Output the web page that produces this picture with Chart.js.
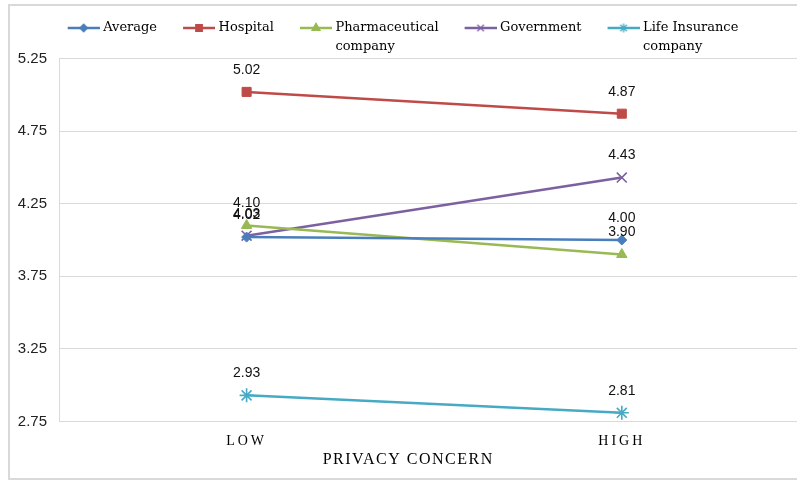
<!DOCTYPE html>
<html>
<head>
<meta charset="utf-8">
<script src="https://cdn.jsdelivr.net/npm/chart.js@4.4.1/dist/chart.umd.min.js"></script>
<style>
  html, body { margin: 0; padding: 0; background: #fff; }
  #wrap { position: relative; width: 797px; height: 482px; overflow: hidden; }
  #frame { position: absolute; left: 8px; top: 4px; width: 900px; height: 476px;
           border: 2px solid #d9d9d9; box-sizing: border-box; }
  canvas { position: absolute; left: 0; top: 0; }
</style>
</head>
<body>
<div id="wrap">
  <div id="frame"></div>
  <canvas id="chart" width="818" height="482"></canvas>
</div>
<script>
// Categories and series values
const categories = ['LOW', 'HIGH'];
const averageValues = [4.02, 4.00];
const hospitalValues = [5.02, 4.87];
const pharmaceuticalValues = [4.10, 3.90];
const governmentValues = [4.03, 4.43];
const lifeInsuranceValues = [2.93, 2.81];
const yTickValues = [2.75, 3.25, 3.75, 4.25, 4.75, 5.25];
const seriesNames = ['Average', 'Hospital', 'Pharmaceutical company', 'Government', 'Life Insurance company'];
const legendLines = [['Average'], ['Hospital'], ['Pharmaceutical', 'company'], ['Government'], ['Life Insurance', 'company']];

const seriesValues = [averageValues, hospitalValues, pharmaceuticalValues, governmentValues, lifeInsuranceValues];
const seriesColors = ['#4a7ebb', '#be4b48', '#98b954', '#7d60a0', '#46aac5'];
const seriesMarkers = ['rectRot', 'rect', 'triangle', 'crossRot', 'star'];
const markerRadius = [5, 6.4, 6, 7, 7];
const legendMarkerRadius = [3.8, 4.6, 4.6, 4.6, 4.6];

const { drawPoint } = Chart.helpers;

// Small line-plus-marker swatch used as the legend symbol
function legendSample(color, style, radius) {
  const c = document.createElement('canvas');
  c.width = 56; c.height = 16;
  const g = c.getContext('2d');
  g.strokeStyle = color; g.fillStyle = color;
  g.lineWidth = 2.5;
  g.beginPath(); g.moveTo(24, 8); g.lineTo(56, 8); g.stroke();
  g.lineWidth = 1.3;
  drawPoint(g, { pointStyle: style, radius: radius, borderWidth: 1.3, rotation: 0 }, 40, 8);
  return c;
}

// Multi-line legend text; measured by its longest line
function legendText(lines) {
  if (lines.length === 1) return lines[0];
  const t = lines.slice();
  const longest = lines.reduce((a, b) => (a.length >= b.length ? a : b));
  t.toString = () => longest;
  return t;
}

const datasets = seriesNames.map((name, i) => ({
  label: name,
  data: seriesValues[i],
  borderColor: seriesColors[i],
  backgroundColor: seriesColors[i],
  borderWidth: 2.5,
  pointStyle: seriesMarkers[i],
  pointRadius: markerRadius[i],
  pointHoverRadius: markerRadius[i],
  pointBorderWidth: (seriesMarkers[i] === 'crossRot' || seriesMarkers[i] === 'star') ? 1.6 : 1,
  pointBackgroundColor: seriesColors[i],
  pointBorderColor: seriesColors[i],
  tension: 0
}));

// Value labels above every point
const valueLabels = {
  id: 'valueLabels',
  afterDatasetsDraw(chart) {
    const ctx = chart.ctx;
    ctx.save();
    ctx.font = '14px "Liberation Sans", Arial, sans-serif';
    ctx.fillStyle = '#111';
    ctx.textAlign = 'center';
    ctx.textBaseline = 'middle';
    chart.data.datasets.forEach((ds, di) => {
      const meta = chart.getDatasetMeta(di);
      meta.data.forEach((pt, j) => {
        ctx.fillText(Number(ds.data[j]).toFixed(2), pt.x, pt.y - 22);
      });
    });
    ctx.restore();
  }
};

// Letter spacing for the category labels and axis title; legend shifted left
const textStyle = {
  id: 'textStyle',
  beforeDraw(chart) {
    const ctx = chart.ctx;
    const x = chart.scales.x;
    if (x && !x._styled) {
      const drawLabels = x.drawLabels;
      const drawTitle = x.drawTitle;
      x.drawLabels = function (area) {
        ctx.save(); ctx.letterSpacing = '3px';
        drawLabels.call(this, area);
        ctx.restore();
      };
      x.drawTitle = function () {
        ctx.save(); ctx.letterSpacing = '1.5px'; ctx.translate(-26, 0);
        drawTitle.call(this);
        ctx.restore();
      };
      x._styled = true;
    }
    const lg = chart.legend;
    if (lg && !lg._styled) {
      const draw = lg.draw;
      lg.draw = function () {
        ctx.save(); ctx.translate(-15, 0);
        draw.call(this);
        ctx.restore();
      };
      lg._styled = true;
    }
  }
};

// Extra room between legend and plot
const legendGap = {
  id: 'legendGap',
  beforeLayout(chart) {
    const lg = chart.legend;
    if (lg && !lg._gap) {
      const fit = lg.fit;
      lg.fit = function () { fit.call(this); this.height += 14; };
      lg._gap = true;
    }
  }
};

new Chart(document.getElementById('chart'), {
  type: 'line',
  data: { labels: categories, datasets: datasets },
  plugins: [valueLabels, textStyle, legendGap],
  options: {
    responsive: false,
    animation: false,
    events: [],
    layout: { padding: { top: 16.5, right: 3, bottom: 0, left: 0 } },
    plugins: {
      tooltip: { enabled: false },
      legend: {
        position: 'top',
        align: 'center',
        labels: {
          usePointStyle: true,
          pointStyleWidth: 50,
          padding: 5,
          color: '#000',
          font: { family: '"DejaVu Serif", serif', size: 13, lineHeight: 1.4 },
          generateLabels(chart) {
            return chart.data.datasets.map((ds, i) => ({
              text: legendText(legendLines[i]),
              pointStyle: legendSample(seriesColors[i], seriesMarkers[i], legendMarkerRadius[i]),
              fillStyle: seriesColors[i],
              strokeStyle: seriesColors[i],
              lineWidth: 0,
              hidden: false,
              fontColor: '#000',
              datasetIndex: i
            }));
          }
        }
      }
    },
    scales: {
      x: {
        type: 'category',
        offset: true,
        grid: { display: false, drawTicks: false },
        border: { display: false },
        ticks: {
          color: '#000',
          padding: 11,
          font: { family: '"Liberation Serif", serif', size: 14 }
        },
        title: {
          display: true,
          text: 'PRIVACY CONCERN',
          color: '#000',
          padding: { top: 0, bottom: 12.4 },
          font: { family: '"Liberation Serif", serif', size: 16 }
        },
        afterFit(scale) { scale.height = 60.5; }
      },
      y: {
        min: 2.75,
        max: 5.25,
        grid: { color: '#d9d9d9', lineWidth: 1, drawTicks: false },
        border: { display: true, color: '#d9d9d9' },
        ticks: {
          color: '#222',
          padding: 12,
          font: { family: '"Liberation Sans", Arial, sans-serif', size: 15 },
          callback: (v) => Number(v).toFixed(2)
        },
        afterBuildTicks(scale) { scale.ticks = yTickValues.map(v => ({ value: v })); },
        afterFit(scale) { scale.width = 59; }
      }
    }
  }
});
</script>
</body>
</html>
